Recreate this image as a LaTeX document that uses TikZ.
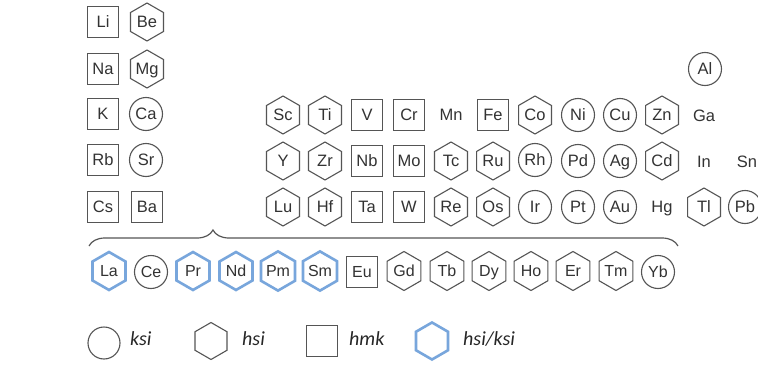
\documentclass[tikz,border=0pt]{standalone}
\usepackage{fontspec}
\setmainfont{Liberation Sans}
\newfontfamily\legfont{Carlito}
\usetikzlibrary{shapes.geometric,decorations.pathreplacing}
\definecolor{ln}{HTML}{555555}
\definecolor{tx}{HTML}{333333}
\definecolor{bl}{HTML}{78A6DC}
\begin{document}
\begin{tikzpicture}[x=1pt,y=-1pt,
  el/.style={inner sep=0pt, text=tx, font=\fontsize{16.5}{17}\selectfont, text height=11.8pt, text depth=0pt},
  la/.style={el, font=\fontsize{16}{17}\selectfont, text height=11.4pt},
  sq/.style={draw=ln, line width=1.1pt, rectangle, minimum size=31pt},
  ci/.style={draw=ln, line width=1.1pt, circle, minimum size=33pt},
  hx/.style={draw=ln, line width=1.1pt, regular polygon, regular polygon sides=6, shape border rotate=30, minimum size=38pt},
  hxl/.style={hx, minimum size=39pt},
  bhx/.style={draw=bl, line width=2.6pt, regular polygon, regular polygon sides=6, shape border rotate=30, minimum size=38pt},
  leg/.style={anchor=base west, inner sep=0pt, text=black!85, font=\legfont\itshape\fontsize{20}{22}\selectfont}]
\fill[white] (0,0) rectangle (758,372);
\useasboundingbox (0,0) rectangle (758,372);
% row 1
\node[el,sq] (Li) at (103,22) {Li};
\node[el,hx] (Be) at (147,22) {Be};
% row 2
\node[el,sq] (Na) at (103,69) {Na};
\node[el,hx] (Mg) at (147,69) {Mg};
\node[el,ci] (Al) at (705,69) {Al};
% row 3
\node[el,sq] (K) at (103,114) {K};
\node[el,ci] (Ca) at (146,114) {Ca};
\node[el,hx] (Sc) at (283,115) {Sc};
\node[el,hx] (Ti) at (325,115) {Ti};
\node[el,sq] (V) at (367,115) {V};
\node[el,sq] (Cr) at (409,115) {Cr};
\node[el] (Mn) at (451,115) {Mn};
\node[el,sq] (Fe) at (493,115) {Fe};
\node[el,hx] (Co) at (535,115) {Co};
\node[el,ci] (Ni) at (578,115) {Ni};
\node[el,ci] (Cu) at (620,115) {Cu};
\node[el,hx] (Zn) at (662,115) {Zn};
\node[el] (Ga) at (704,116) {Ga};
% row 4
\node[el,sq] (Rb) at (103,160) {Rb};
\node[el,ci] (Sr) at (146,160) {Sr};
\node[el,hx] (Y) at (283,161) {Y};
\node[el,hx] (Zr) at (325,161) {Zr};
\node[el,sq] (Nb) at (367,161) {Nb};
\node[el,sq] (Mo) at (409,161) {Mo};
\node[el,hx] (Tc) at (451,161) {Tc};
\node[el,hx] (Ru) at (493,161) {Ru};
\node[el,ci] (Rh) at (535,160) {Rh};
\node[el,ci] (Pd) at (578,161) {Pd};
\node[el,ci] (Ag) at (620,161) {Ag};
\node[el,hx] (Cd) at (662,161) {Cd};
\node[el] (In) at (704,162) {In};
\node[el] (Sn) at (747,162) {Sn};
% row 5
\node[el,sq] (Cs) at (103,207) {Cs};
\node[el,sq] (Ba) at (147,207) {Ba};
\node[el,hx] (Lu) at (283,207) {Lu};
\node[el,hx] (Hf) at (325,207) {Hf};
\node[el,sq] (Ta) at (367,207) {Ta};
\node[el,sq] (W) at (409,207) {W};
\node[el,hx] (Re) at (451,207) {Re};
\node[el,hx] (Os) at (493,207) {Os};
\node[el,ci] (Ir) at (535,207) {Ir};
\node[el,ci] (Pt) at (578,207) {Pt};
\node[el,ci] (Au) at (620,207) {Au};
\node[el] (Hg) at (662,207) {Hg};
\node[el,hx] (Tl) at (704,207) {Tl};
\node[el,ci] (Pb) at (745,207) {Pb};
% brace
\coordinate (b1) at (89,246);
\coordinate (b2) at (678,246);
\draw[ln, line width=1.2pt, decorate, decoration={brace, amplitude=16pt, aspect=0.2105}] (b1) -- (b2);
% lanthanides
\node[la,bhx] (La) at (109,271) {La};
\node[la,ci] (Ce) at (151,272) {Ce};
\node[la,bhx] (Pr) at (193,271) {Pr};
\node[la,bhx] (Nd) at (236,271) {Nd};
\node[la,bhx] (Pm) at (278,271) {Pm};
\node[la,bhx] (Sm) at (320,271) {Sm};
\node[la,sq] (Eu) at (362,272) {Eu};
\node[la,hxl] (Gd) at (404,271) {Gd};
\node[la,hxl] (Tb) at (447,271) {Tb};
\node[la,hxl] (Dy) at (489,271) {Dy};
\node[la,hxl] (Ho) at (531,271) {Ho};
\node[la,hxl] (Er) at (573,271) {Er};
\node[la,hxl] (Tm) at (616,271) {Tm};
\node[la,ci] (Yb) at (658,272) {Yb};
% legend
\node[ci, minimum size=32pt] (lci) at (104,343) {};
\node[leg] (lcit) at (130,345) {ksi};
\node[hx, minimum size=37pt] (lhx) at (211,341) {};
\node[leg] (lhxt) at (242,345) {hsi};
\node[sq] (lsq) at (322,341) {};
\node[leg] (lsqt) at (349,345) {hmk};
\node[bhx, minimum size=37pt] (lbh) at (432,341) {};
\node[leg] (lbht) at (463,345) {hsi/ksi};
\end{tikzpicture}
\end{document}
